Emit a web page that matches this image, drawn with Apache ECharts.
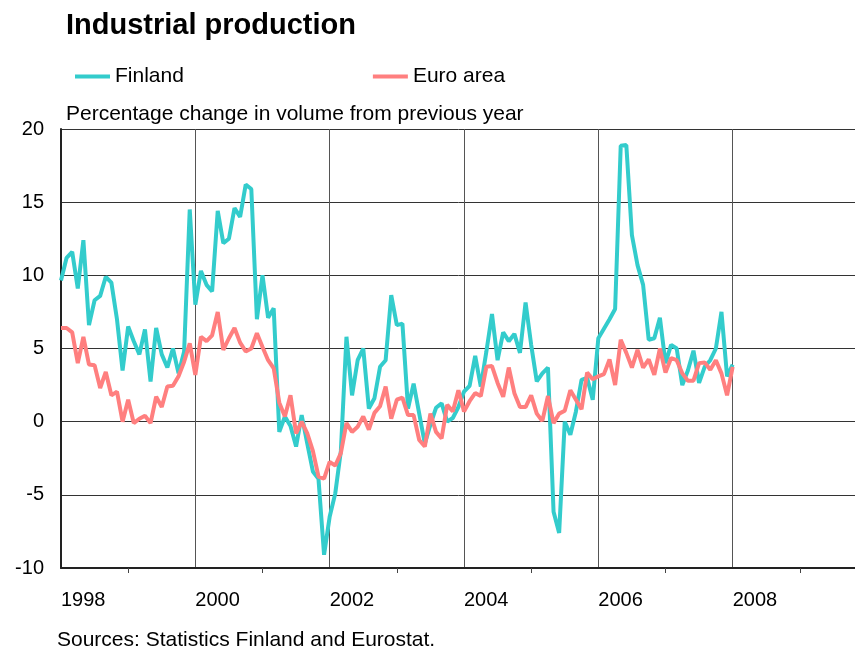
<!DOCTYPE html>
<html>
<head>
<meta charset="utf-8">
<script src="https://cdn.jsdelivr.net/npm/echarts@6/dist/echarts.min.js"></script>
<style>
  html, body { margin: 0; padding: 0; background: #fff; }
  #chart { width: 855px; height: 652px; }
</style>
</head>
<body>
<div id="chart"></div>
<script>
// monthly data, Jan 1998 .. Jan 2008
var startYear = 1998;
var finland = [
    9.65, 11.2, 11.6, 9.1, 12.4, 6.6, 8.3, 8.6, 9.9, 9.5, 7.0, 3.5,
    6.5, 5.5, 4.6, 6.3, 2.75, 6.4, 4.6, 3.7, 5.0, 3.3, 4.8, 14.5,
    8.0, 10.3, 9.35, 8.9, 14.4, 12.2, 12.5, 14.6, 14.0, 16.2, 15.9, 7.0,
    10.0, 7.1, 7.75, -0.7, 0.35, -0.3, -1.7, 0.45, -1.5, -3.4, -3.9, -9.1,
    -6.5, -4.9, -2.0, 5.8, 1.8, 4.2, 5.0, 0.9, 1.6, 3.75, 4.2, 8.65,
    6.6, 6.7, 0.9, 2.6, 0.55, -1.5, -0.2, 0.95, 1.25, 0.0, 0.25, 1.0,
    2.05, 2.45, 4.5, 2.4, 4.8, 7.35, 4.2, 6.1, 5.5, 6.0, 4.7, 8.15,
    5.25, 2.75, 3.3, 3.7, -6.15, -7.6, 0.0, -0.9, 0.7, 2.85, 3.0, 1.5,
    5.7, 6.35, 7.0, 7.7, 18.85, 18.9, 12.75, 10.7, 9.35, 5.6, 5.7, 7.1,
    4.0, 5.25, 5.0, 2.5, 3.5, 4.85, 2.65, 3.75, 4.2, 5.0, 7.5, 3.1,
    3.9
];
var euroArea = [
    6.4, 6.4, 6.1, 4.0, 5.8, 3.9, 3.85, 2.3, 3.4, 1.8, 2.05, 0.0,
    1.5, -0.1, 0.2, 0.4, -0.1, 1.7, 1.0, 2.4, 2.45, 3.1, 4.1, 5.35,
    3.2, 5.8, 5.5, 5.9, 7.5, 4.9, 5.7, 6.4, 5.4, 4.8, 5.0, 6.05,
    5.1, 4.2, 3.65, 1.3, 0.35, 1.8, -0.8, 0.0, -0.8, -2.0, -3.75, -3.9,
    -2.75, -3.0, -2.15, -0.1, -0.7, -0.35, 0.35, -0.55, 0.6, 1.05, 2.4, 0.2,
    1.5, 1.65, 0.45, 0.45, -1.25, -1.7, 0.55, -0.7, -1.15, 1.15, 0.7, 2.15,
    0.7, 1.4, 1.95, 1.75, 3.75, 3.8, 2.65, 1.7, 3.7, 1.95, 1.0, 1.0,
    1.8, 0.55, 0.05, 1.75, -0.1, 0.55, 0.75, 2.15, 1.5, 0.85, 3.35, 2.9,
    3.1, 3.25, 4.25, 2.5, 5.6, 4.7, 3.7, 4.9, 3.7, 4.25, 3.2, 5.0,
    3.35, 4.35, 4.2, 3.3, 2.8, 2.8, 4.0, 4.05, 3.55, 4.2, 3.3, 1.8,
    3.75
];
var seriesNames = ['Finland', 'Euro area'];
var seriesColors = ['#33CCCC', '#FF7F7F'];

var font = 'Liberation Sans, Arial, sans-serif';

function toPoints(values) {
    return values.map(function (v, i) {
        return [startYear + i / 12, v];
    });
}

var chart = echarts.init(document.getElementById('chart'));
chart.setOption({
    animation: false,
    backgroundColor: '#fff',
    textStyle: { fontFamily: font },
    graphic: [
        {
            type: 'text', left: 66, top: 11,
            style: { text: 'Industrial production', font: 'bold 29px ' + font, fill: '#000' }
        },
        {
            type: 'text', left: 66, top: 104,
            style: { text: 'Percentage change in volume from previous year', font: '21px ' + font, fill: '#000' }
        },
        {
            type: 'text', left: 57, top: 630,
            style: { text: 'Sources: Statistics Finland and Eurostat.', font: '21px ' + font, fill: '#000' }
        }
    ],
    legend: {
        left: 75,
        top: 66,
        padding: 0,
        icon: 'rect',
        itemWidth: 35,
        itemHeight: 4,
        itemGap: 189,
        textStyle: { fontSize: 21, color: '#000', fontFamily: font },
        data: seriesNames
    },
    grid: {
        left: 61,
        right: -12,
        top: 129,
        bottom: 84,
        containLabel: false,
        outerBoundsMode: 'none'
    },
    xAxis: {
        type: 'value',
        min: 1998,
        max: 2010,
        interval: 2,
        axisLine: { show: true, onZero: false, lineStyle: { color: '#222', width: 2 } },
        axisTick: { show: false },
        minorTick: { show: true, splitNumber: 2, length: 5, lineStyle: { color: '#444', width: 1 } },
        splitLine: { show: true, lineStyle: { color: '#555', width: 1 } },
        axisLabel: {
            fontSize: 20,
            color: '#000',
            fontFamily: font,
            align: 'left',
            margin: 22,
            showMaxLabel: false,
            formatter: function (v) { return String(v); }
        }
    },
    yAxis: {
        type: 'value',
        min: -10,
        max: 20,
        interval: 5,
        axisLine: { show: true, lineStyle: { color: '#222', width: 2 } },
        axisTick: { show: false },
        splitLine: { show: true, lineStyle: { color: '#333', width: 1 } },
        axisLabel: { fontSize: 20, color: '#000', fontFamily: font, margin: 17 }
    },
    series: [
        {
            name: seriesNames[0],
            type: 'line',
            showSymbol: false,
            symbol: 'none',
            color: seriesColors[0],
            lineStyle: { width: 4, color: seriesColors[0] },
            data: toPoints(finland)
        },
        {
            name: seriesNames[1],
            type: 'line',
            showSymbol: false,
            symbol: 'none',
            color: seriesColors[1],
            lineStyle: { width: 4, color: seriesColors[1] },
            data: toPoints(euroArea)
        }
    ]
});
</script>
</body>
</html>
